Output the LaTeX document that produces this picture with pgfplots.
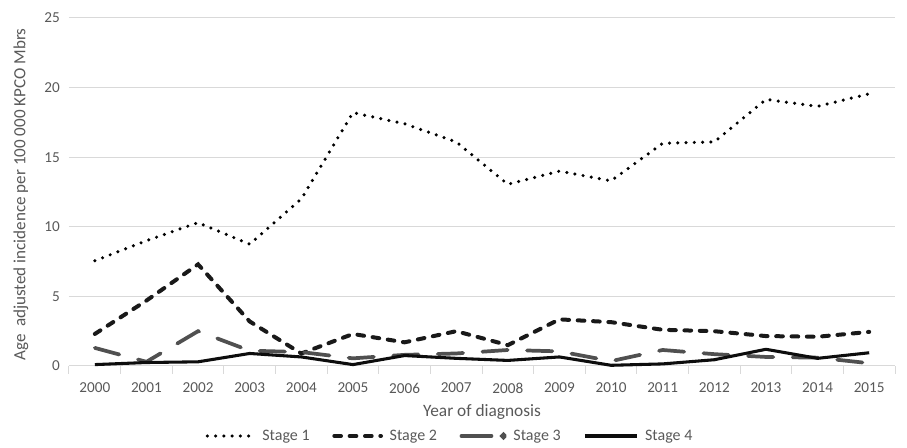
\documentclass[border=0pt]{standalone}
\usepackage{pgfplots}
\pgfplotsset{compat=1.18}
\usepackage{fontspec}
\setmainfont{Carlito}
\definecolor{txt}{HTML}{595959}
\definecolor{grid}{HTML}{D9D9D9}
\definecolor{s3}{HTML}{505050}
\pgfplotstableread{
x s1 s2 s3 s4
0 7.56 2.30 1.30 0.10
1 9.00 4.70 0.30 0.25
2 10.30 7.30 2.50 0.30
3 8.75 3.20 1.10 0.90
4 12.0 0.90 1.00 0.65
5 18.20 2.30 0.55 0.10
6 17.40 1.70 0.80 0.75
7 16.10 2.50 0.90 0.55
8 13.05 1.50 1.15 0.40
9 14.00 3.35 1.05 0.65
10 13.30 3.15 0.35 0.05
11 16.00 2.60 1.15 0.15
12 16.10 2.50 0.85 0.45
13 19.15 2.15 0.65 1.20
14 18.65 2.10 0.60 0.55
15 19.55 2.45 0.20 0.95
}\data
\begin{document}
\begin{tikzpicture}
\begin{axis}[
  scale only axis,
  width=619.5pt, height=261pt,
  xmin=-0.5, xmax=15.5,
  ymin=0, ymax=25,
  ytick={0,5,...,25},
  xtick={0,...,15},
  xticklabels={2000,2001,2002,2003,2004,2005,2006,2007,2008,2009,2010,2011,2012,2013,2014,2015},
  /pgf/number format/assume math mode=true,
  minor xtick={-0.5,0.5,...,15.5},
  major x tick style={draw=none},
  minor x tick style={draw=grid, line width=0.75pt},
  xtick align=outside,
  major tick length=0pt,
  minor tick length=6pt,
  ymajorgrids,
  grid style={draw=grid, line width=0.75pt},
  axis x line*=bottom,
  axis y line*=left,
  y axis line style={draw=none},
  x axis line style={draw=grid, line width=0.75pt, -},
  tick label style={font=\fontsize{11.4}{13}\selectfont, text=txt, inner sep=0pt},
  ytick style={draw=none},
  yticklabel style={anchor=east, xshift=-6.75pt},
  xticklabel style={anchor=center, yshift=-16.5pt},
  xlabel={Year of diagnosis},
  ylabel={Age\ \ adjusted incidence per 100 000 KPCO Mbrs},
  every axis x label/.style={at={(axis description cs:0.5,0)}, anchor=center, yshift=-34.5pt,
    font=\fontsize{13}{15}\selectfont, text=txt, inner sep=0pt},
  every axis y label/.style={at={(axis description cs:0,0.5)}, xshift=-36pt, yshift=-2pt, rotate=90, anchor=center,
    font=\fontsize{12.8}{15}\selectfont, text=txt, inner sep=0pt},
  legend style={at={(axis description cs:0.5,0)}, anchor=center, yshift=-52.5pt, xshift=-24.75pt,
    draw=none, legend columns=4, fill=none,
    font=\fontsize{12}{13}\selectfont, text=txt, inner sep=0pt,
    nodes={inner sep=0pt},
    /tikz/every odd column/.append style={column sep=5pt},
    /tikz/every even column/.append style={column sep=17pt}},
  legend cell align=left,
  legend image code/.code={\draw[#1] (0pt,0pt) -- (35pt,0pt);},
  clip=false,
]
\addplot[black, line width=2.6pt, line cap=round, dash pattern=on 0pt off 6.2pt] table[x=x,y=s1]{\data};
\addlegendentry{Stage 1}
\addplot[black!90, line width=3pt, line cap=round, dash pattern=on 5pt off 6.5pt] table[x=x,y=s2]{\data};
\addlegendentry{Stage 2}
\addplot[s3, line width=2.8pt, line cap=round, dash pattern=on 19pt off 14.5pt,
  legend image code/.code={\draw[s3, line width=2.8pt, line cap=round, solid] (1.5pt,0pt) -- (24pt,0pt);
    \fill[s3] (33pt,0pt) circle (1.1pt);}] table[x=x,y=s3]{\data};
\addlegendentry{Stage 3}
\addplot[black!95, line width=2.3pt, line join=round,
  legend image code/.code={\draw[black!95, line width=2.3pt] (0pt,0pt) -- (39pt,0pt);}] table[x=x,y=s4]{\data};
\addlegendentry{Stage 4}
\end{axis}
\pgfresetboundingbox
\path[use as bounding box] ([shift={(-51.75pt,-61.5pt)}]current axis.south west) rectangle ([shift={(9pt,13.5pt)}]current axis.north east);
\end{tikzpicture}
\end{document}
